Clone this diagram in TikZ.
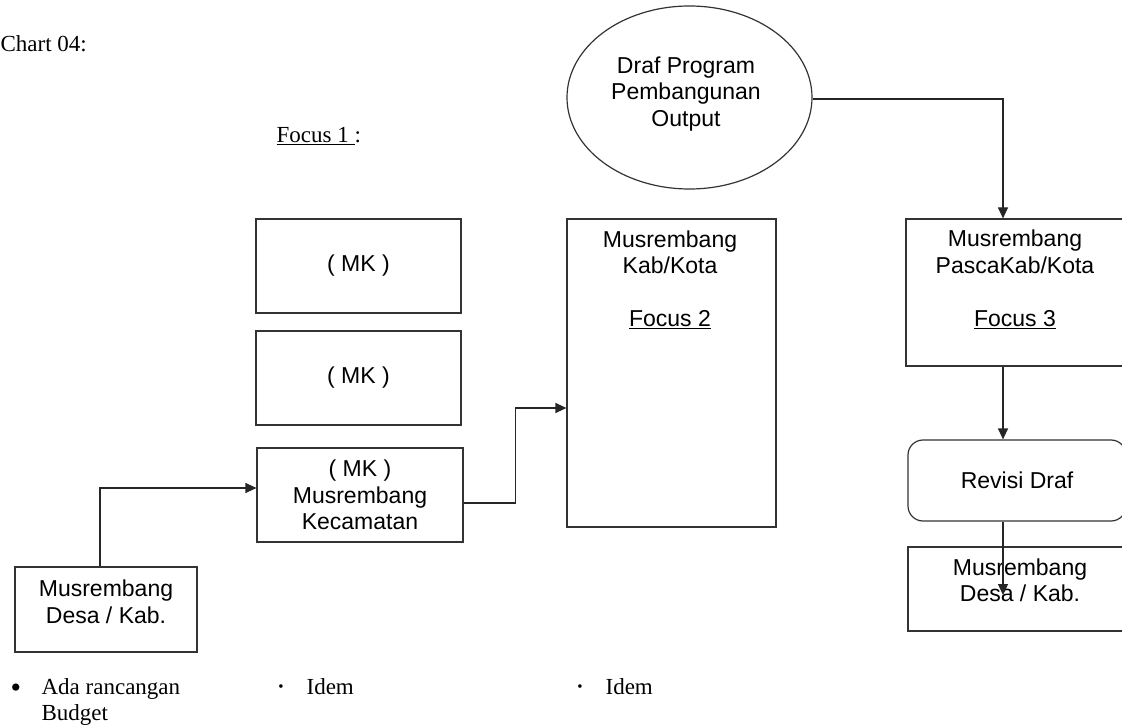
\documentclass[tikz,border=0pt]{standalone}
\usepackage{fontspec}
\setmainfont{Liberation Serif}
\newfontfamily\arialf{Liberation Sans}
\usetikzlibrary{arrows.meta,shapes.geometric}
\begin{document}
\begin{tikzpicture}[x=1pt,y=-1pt,
  line width=1.2pt,
  box/.style={draw=black!80, line width=1.2pt, inner sep=0pt, minimum width=#1},
  sans/.style={font=\arialf\fontsize{23}{26.5}\selectfont, align=center, inner sep=0pt},
  serif/.style={font=\fontsize{23}{25.5}\selectfont, inner sep=0pt},
  arr/.style={draw=black!85, line width=1.2pt, -{Triangle[length=11pt,width=10pt]}},
]
\path[use as bounding box] (0,0) rectangle (1122,727);
\clip (0,0) rectangle (1122,727);

% header texts
\node[serif, anchor=base west] (chart) at (0,52) {Chart 04:};
\node[serif, anchor=base west] (focus1) at (276,143) {\underline{Focus 1\ }:};

% ellipse
\node[draw=black!80, ellipse, minimum width=245pt, minimum height=183pt, inner sep=0pt] (draf) at (689.5,97.5) {};
\node[sans] (draftxt) at (686,94) {Draf Program\\Pembangunan\\Output};

% left column
\node[box=205pt, minimum height=94pt, sans] (mk1) at (358.5,266) {( MK )};
\node[box=205pt, minimum height=94pt, sans] (mk2) at (358.5,378) {( MK )};
\node[box=206pt, minimum height=94pt, sans] (kec) at (360,495) {( MK )\\Musrembang\\Kecamatan};

\node[box=182pt, minimum height=85pt] (desaL) at (106,609.5) {};
\node[sans] (desaLtxt) at (106,602) {Musrembang\\Desa / Kab.};

% middle column
\node[box=209pt, minimum height=308pt] (kab) at (671.5,373) {};
\node[sans] (kabtxt) at (670,280) {Musrembang\\Kab/Kota\\\mbox{}\\\underline{Focus 2}};

% right column
\node[box=220pt, minimum height=147pt] (pasca) at (1016,292.5) {};
\node[sans] (pascatxt) at (1015,279.5) {Musrembang\\PascaKab/Kota\\\mbox{}\\\underline{Focus 3}};

\node[box=218pt, minimum height=81pt, rounded corners=15pt, sans] (revisi) at (1017,480.5) {Revisi Draf};

\node[box=218pt, minimum height=84pt] (desaR) at (1017,589) {};
\node[sans] (desaRtxt) at (1020,580.5) {Musrembang\\Desa / Kab.};

% connectors
\draw[arr] ([xshift=-6pt]desaL.north) |- ([yshift=7pt]kec.west);
\draw[arr] ([yshift=-8pt]kec.east) -- ++(52,0) |- ([yshift=-35pt]kab.west);
\draw[arr] ([yshift=-1.5pt]draf.east) -| ([xshift=-13pt]pasca.north);
\draw[arr] ([xshift=-13pt]pasca.south) -- ([xshift=-14pt]revisi.north);
\draw[arr] ([xshift=-14pt]revisi.south) -- ([xshift=-14pt,yshift=-6pt]desaR.center);

% bullets
\node[serif, anchor=base, font=\fontsize{30}{30}\selectfont] (b1) at (16,697) {\textbullet};
\node[serif, anchor=north west, align=left] (t1) at (41,678) {Ada rancangan\\Budget};
\node[serif, anchor=base, font=\fontsize{15}{18}\selectfont] (b2) at (281,691) {\textbullet};
\node[serif, anchor=base west] (t2) at (306,694) {Idem};
\node[serif, anchor=base, font=\fontsize{15}{18}\selectfont] (b3) at (580,691) {\textbullet};
\node[serif, anchor=base west] (t3) at (605,694) {Idem};
\end{tikzpicture}
\end{document}
